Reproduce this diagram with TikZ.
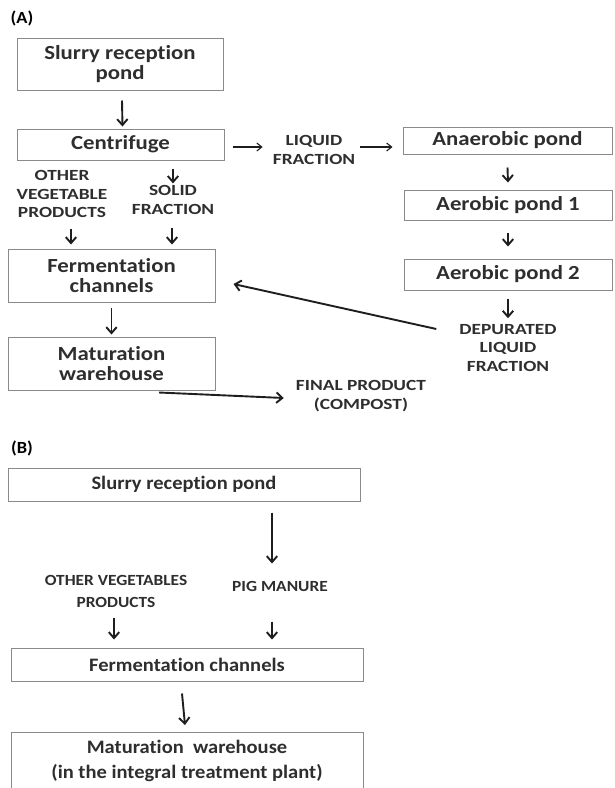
\documentclass[tikz,border=0pt]{standalone}
\usepackage{fontspec}
\setmainfont{Carlito}[Ligatures=NoCommon]
\newfontfamily\fA[FakeStretch=1.14,Ligatures=NoCommon]{Carlito}
\newfontfamily\fL[FakeStretch=1.25,Ligatures=NoCommon]{Carlito}
\newfontfamily\fB[FakeStretch=1.08,Ligatures=NoCommon]{Carlito}
\newfontfamily\fC[FakeStretch=1.12,Ligatures=NoCommon]{Carlito}
\usetikzlibrary{arrows.meta}
\definecolor{txt}{HTML}{2E2E2E}
\definecolor{boxline}{HTML}{8A8A8A}
\definecolor{arrc}{HTML}{1E1E1E}
\tikzset{
  boxA/.style={draw=boxline, line width=1pt, inner sep=0pt, align=center, text=txt,
    font=\fA\bfseries\fontsize{20}{20}\selectfont},
  boxB/.style={draw=boxline, line width=1pt, inner sep=0pt, align=center, text=txt,
    font=\fB\bfseries\fontsize{19}{25}\selectfont},
  txtB/.style={inner sep=0pt, align=center, text=txt,
    font=\fB\bfseries\fontsize{19}{25}\selectfont},
  lblA/.style={inner sep=1pt, align=center, text=txt, font=\fL\bfseries\fontsize{15.5}{18.5}\selectfont},
  lblB/.style={inner sep=1pt, align=center, text=txt, font=\fC\bfseries\fontsize{15.5}{22}\selectfont},
  tag/.style={inner sep=0pt, text=black, font=\fB\bfseries\fontsize{17}{17}\selectfont},
  arr/.style={draw=arrc, line width=1.9pt, -{Straight Barb[length=6pt,width=10.5pt,line width=1.9pt]}},
  arrthin/.style={draw=arrc, line width=1.1pt, -{Straight Barb[length=5pt,width=8pt,line width=1.1pt]}}
}
\begin{document}
\begin{tikzpicture}[x=1pt,y=-1pt]
\useasboundingbox (0,0) rectangle (614,788);
\clip (0,0) rectangle (614,788);
% ---------- (A)
\node[tag] (tA) at (22,18) {(A)};
\node[boxA, minimum width=206pt, minimum height=52pt] (slA) at (120,64) {Slurry reception\\pond};
\node[boxA, minimum width=207pt, minimum height=31pt] (cen) at (120.5,144.5) {Centrifuge};
\node[lblA] (liq) at (314,150) {LIQUID\\FRACTION};
\node[boxA, minimum width=209pt, minimum height=27pt] (ana) at (507.5,140.5) {Anaerobic pond};
\node[boxA, minimum width=208pt, minimum height=30pt] (ae1) at (508,205) {Aerobic pond 1};
\node[boxA, minimum width=208pt, minimum height=31pt] (ae2) at (508,274.5) {Aerobic pond 2};
\node[lblA] (dep) at (508,348) {DEPURATED\\LIQUID\\FRACTION};
\node[lblA] (ovA) at (62,194) {OTHER\\VEGETABLE\\PRODUCTS};
\node[lblA] (sol) at (173,200) {SOLID\\FRACTION};
\node[boxA, minimum width=207pt, minimum height=53pt] (feA) at (111.5,275.5) {Fermentation\\channels};
\node[boxA, minimum width=207pt, minimum height=53pt] (maA) at (111.5,363.5) {Maturation\\warehouse};
\node[lblA] (fin) at (361,396) {FINAL PRODUCT\\(COMPOST)};

\draw[arr] ([xshift=2pt,yshift=-10pt]slA.south) -- ([xshift=2pt,yshift=2pt]cen.north);
\draw[arrthin] ([xshift=8pt,yshift=-2.5pt]cen.east) -- ([xshift=-9pt,yshift=-2.5pt]cen.east -| liq.west);
\draw[arrthin] ([xshift=4pt,yshift=-6.5pt]liq.east |- ana.west) -- ([xshift=-10pt,yshift=-6.5pt]ana.west);
\draw[arr] ([yshift=-13pt]ana.south) -- ([yshift=7pt]ae1.north);
\draw[arr] ([yshift=-12pt]ae1.south) -- ([yshift=12pt]ae2.north);
\draw[arr] ([yshift=-8pt]ae2.south) -- ([yshift=5pt]dep.north);
\draw[arr] ([yshift=-8pt]cen.south -| sol.north) -- ([yshift=1pt]sol.north);
\draw[arr] ([xshift=9pt,yshift=-10pt]ovA.south) -- ([xshift=9pt,yshift=4pt]ovA.south |- feA.north);
\draw[arr] ([xshift=-1pt,yshift=-12pt]sol.south) -- ([xshift=-1pt,yshift=4pt]sol.south |- feA.north);
\draw[arr] ([yshift=-5pt]feA.south) -- ([yshift=2pt]maA.north);
\draw[arr] ([xshift=-22pt,yshift=19pt]dep.west) -- ([xshift=18pt,yshift=-8.5pt]feA.east);
\draw[arr] ([xshift=47.5pt,yshift=-2pt]maA.south) -- ([xshift=-11pt,yshift=-2pt]fin.west);

% ---------- (B)
\node[tag] (tB) at (22,448) {(B)};
\node[boxB, minimum width=352pt, minimum height=33pt] (slB) at (184,484.5) {Slurry reception pond};
\node[lblB] (ovB) at (116,591) {OTHER VEGETABLES\\PRODUCTS};
\node[lblB] (pig) at (280,586) {PIG MANURE};
\node[boxB, minimum width=352pt, minimum height=33pt] (feB) at (187,664.5) {Fermentation channels};
\node[boxB, minimum width=352pt, minimum height=80pt, anchor=north] (maB) at (187,732) {};
\node[txtB, anchor=north] (maBt) at (187,740) {Maturation\ \ warehouse\\(in the integral treatment plant)};

\draw[arr] ([xshift=88pt,yshift=-11pt]slB.south) -- ([xshift=88pt,yshift=-62pt]slB.south);
\draw[arr] ([xshift=-2pt,yshift=-10pt]ovB.south) -- ([xshift=-2pt,yshift=8pt]ovB.south |- feB.north);
\draw[arr] ([xshift=-8pt,yshift=26pt]pig.south |- feB.north) -- ([xshift=-8pt,yshift=8pt]pig.south |- feB.north);
\draw[arr] ([xshift=-5pt,yshift=-12pt]feB.south) -- ([xshift=-2pt,yshift=7pt]maB.north);
\end{tikzpicture}
\end{document}
